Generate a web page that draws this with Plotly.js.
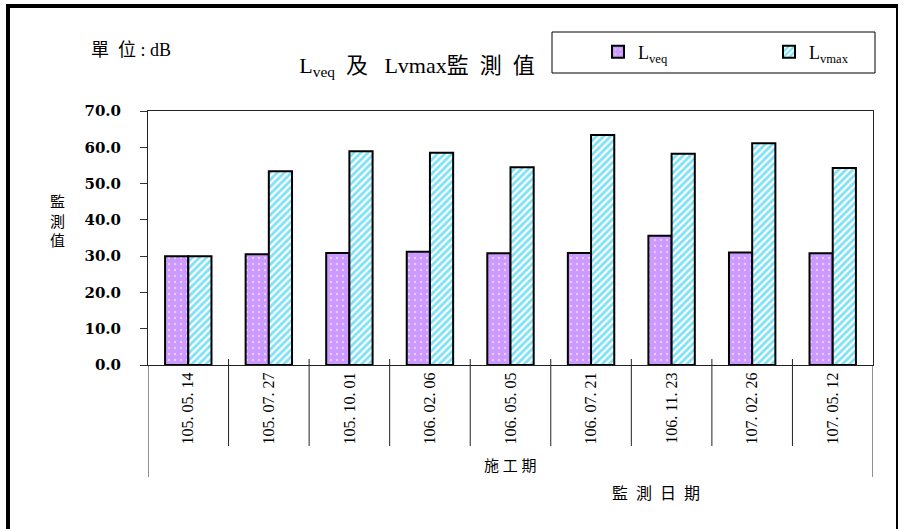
<!DOCTYPE html>
<html><head><meta charset="utf-8">
<script src="https://cdn.plot.ly/plotly-3.0.1.min.js"></script>
<style>html,body{margin:0;padding:0;background:#fff}</style>
</head><body><div id="chart" style="width:904px;height:529px"></div>
<script>
const dates = ['105. 05. 14','105. 07. 27','105. 10. 01','106. 02. 06','106. 05. 05','106. 07. 21','106. 11. 23','107. 02. 26','107. 05. 12'];
const lveq = [30.0, 30.5, 30.9, 31.2, 30.8, 30.9, 35.6, 31.0, 30.8];
const lvmax = [30.0, 53.4, 58.9, 58.5, 54.5, 63.4, 58.2, 61.1, 54.3];
const yTickVals = [0, 10, 20, 30, 40, 50, 60, 70];
const yTickText = ['0.0', '10.0', '20.0', '30.0', '40.0', '50.0', '60.0', '70.0'];
const seriesNames = ['L<sub>veq</sub>', 'L<sub>vmax</sub>'];

// plot area in pixels (for paper conversions)
const L = 148, R = 873, T = 111, B = 365;
const px = x => (x - L) / (R - L);
const py = y => (B - y) / (B - T);

const traces = [
  {type: 'bar', name: seriesNames[0], x: dates, y: lveq,
   marker: {color: '#cc99ff', line: {color: '#000', width: 2},
            pattern: {shape: '.', fgcolor: '#ffffff', size: 6, solidity: 0.12, fillmode: 'overlay'}},
   hoverinfo: 'y'},
  {type: 'bar', name: seriesNames[1], x: dates, y: lvmax,
   marker: {color: '#ffffff', line: {color: '#000', width: 2},
            pattern: {shape: '/', fgcolor: '#00c4f0', size: 5, solidity: 0.55, fillmode: 'overlay'}},
   hoverinfo: 'y'}
];

const shapes = [];
for (let k = 0; k <= dates.length; k++) {
  const outer = (k === 0 || k === dates.length);
  shapes.push({type: 'line', xref: 'x', yref: 'paper', x0: k - 0.5, x1: k - 0.5,
    y0: outer ? 0 : py(359), y1: outer ? py(477) : py(446), line: {color: '#222', width: 1}});
}
// legend box
shapes.push({type: 'rect', xref: 'paper', yref: 'paper', x0: px(552), x1: px(875), y0: py(73), y1: py(32),
  line: {color: '#000', width: 1}});
// outer frame
shapes.push({type: 'line', xref: 'paper', yref: 'paper', x0: px(8), x1: px(8), y0: py(540), y1: py(6), line: {color: '#000', width: 4}});
shapes.push({type: 'line', xref: 'paper', yref: 'paper', x0: px(6), x1: px(898), y0: py(6), y1: py(6), line: {color: '#000', width: 4}});
shapes.push({type: 'line', xref: 'paper', yref: 'paper', x0: px(897), x1: px(897), y0: py(540), y1: py(6), line: {color: '#000', width: 2}});

const cjk = 'Liberation Serif, Noto Sans CJK TC, serif';
const annotations = [
  {text: '單&nbsp;&nbsp;位&nbsp;:&nbsp;dB', xref: 'paper', yref: 'paper', x: px(89), y: py(50), xanchor: 'left', yanchor: 'middle',
   showarrow: false, font: {family: cjk, size: 18, color: '#000'}},
  {text: '監<br>測<br>值', xref: 'paper', yref: 'paper', x: px(57), y: py(221), xanchor: 'center', yanchor: 'middle',
   showarrow: false, font: {family: cjk, size: 15, color: '#000'}},
  {text: '施&nbsp;工&nbsp;期', xref: 'paper', yref: 'paper', x: px(510), y: py(466), xanchor: 'center', yanchor: 'middle',
   showarrow: false, font: {family: cjk, size: 15, color: '#000'}},
  {text: '監&nbsp;&nbsp;測&nbsp;&nbsp;日&nbsp;&nbsp;期', xref: 'paper', yref: 'paper', x: px(656), y: py(493), xanchor: 'center', yanchor: 'middle',
   showarrow: false, font: {family: cjk, size: 16, color: '#000'}}
];

const layout = {
  width: 904, height: 529,
  margin: {l: L, r: 904 - R, t: T, b: 529 - B, pad: 0, autoexpand: false},
  paper_bgcolor: '#fff', plot_bgcolor: '#fff',
  barmode: 'group', bargap: 0.424, bargroupgap: 0,
  title: {text: 'L<sub>veq</sub>&nbsp;&nbsp;及&nbsp;&nbsp;&nbsp;Lvmax監&nbsp;&nbsp;測&nbsp;&nbsp;值', xref: 'container', yref: 'container',
          x: 417 / 904, xanchor: 'center', y: 1 - 65 / 529, yanchor: 'middle',
          font: {family: cjk, size: 22, color: '#000'}},
  xaxis: {type: 'category', range: [-0.5, dates.length - 0.5], showline: true, mirror: true, linecolor: '#222', linewidth: 1,
          ticks: '', tickangle: -90, showgrid: false, zeroline: false,
          tickfont: {family: 'Liberation Sans Narrow, Liberation Serif, serif', size: 16, color: '#000'}},
  yaxis: {range: [0, 70], tickvals: yTickVals, ticktext: yTickText, ticks: 'outside', ticklen: 7, tickcolor: '#333',
          showline: true, mirror: true, linecolor: '#222', linewidth: 1, showgrid: false, zeroline: false,
          ticklabelstandoff: 16,
          tickfont: {family: 'DejaVu Serif, serif', size: 15, weight: 'bold', color: '#000'}},
  showlegend: true,
  legend: {orientation: 'h', x: px(598), xanchor: 'left', y: py(52), yanchor: 'middle',
           bgcolor: 'rgba(0,0,0,0)', borderwidth: 0, entrywidth: 126, entrywidthmode: 'pixels', itemwidth: 30,
           traceorder: 'normal', font: {family: 'Liberation Serif, serif', size: 18, color: '#000'}},
  shapes: shapes, annotations: annotations
};

Plotly.newPlot('chart', traces, layout, {displayModeBar: false, staticPlot: true});
</script></body></html>
